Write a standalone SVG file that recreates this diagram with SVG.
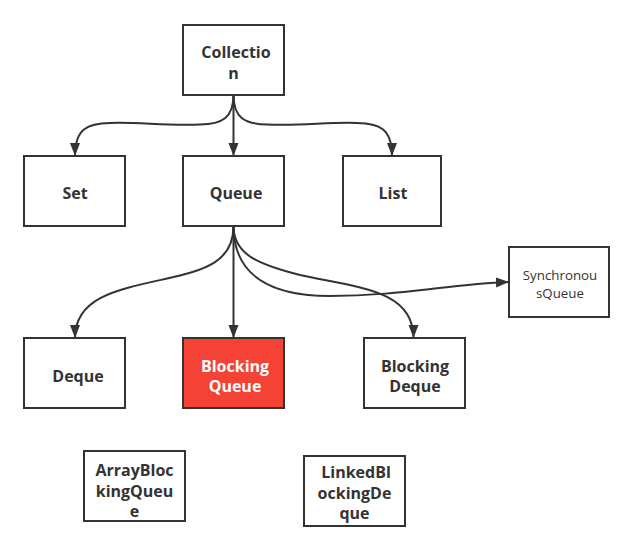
<svg xmlns="http://www.w3.org/2000/svg" width="634" height="551" viewBox="0 0 634 551">
<style>
.box{fill:#ffffff;stroke:#333333;stroke-width:2}
.red{fill:#f44336;stroke:#333333;stroke-width:2}
.t{font-family:"Open Sans","Noto Sans","Liberation Sans",sans-serif;font-size:16px;font-weight:bold;fill:#333333;text-anchor:middle}
.w{fill:#ffffff}
.s{font-family:"Open Sans","Noto Sans","Liberation Sans",sans-serif;font-size:13.3px;font-weight:normal;fill:#333333;text-anchor:middle}
.c{fill:none;stroke:#333333;stroke-width:2}
</style>
<defs>
<marker id="arr" markerUnits="userSpaceOnUse" markerWidth="14" markerHeight="11" refX="13" refY="5" orient="auto">
<path d="M0,0 L13,5 L0,10 Z" fill="#333333"/>
</marker>
</defs>
<rect width="634" height="551" fill="#ffffff"/>
<g id="connectors">
<path class="c" marker-end="url(#arr)" d="M233.5,95 C233.5,118 222,124 200,124.5 C165,126 140,122 110,123 C88,123.5 75,128 75,156"/>
<path class="c" marker-end="url(#arr)" d="M233.5,95 L233.5,156"/>
<path class="c" marker-end="url(#arr)" d="M233.5,95 C233.5,118 245,124 267,124.5 C302,126 327,122 357,123 C379,123.5 392,128 392,156"/>
<path class="c" marker-end="url(#arr)" d="M233.5,226 C233.5,262 205,270 165,279 C115,290 75,298 75,338"/>
<path class="c" marker-end="url(#arr)" d="M233.5,226 L233.5,338"/>
<path class="c" marker-end="url(#arr)" d="M233.5,226 C233.5,255 260,265 300,275 C360,288 413.5,290 413.5,338"/>
<path class="c" marker-end="url(#arr)" d="M233.5,226 C233.5,275 270,296 330,296 C400,296 450,284 509,282"/>
</g>
<g id="collection">
<rect class="box" x="183" y="25" width="101" height="70"/>
<text class="t" x="236" y="57.5">Collectio</text>
<text class="t" x="233.5" y="78.5">n</text>
</g>
<g id="set">
<rect class="box" x="24" y="156" width="101" height="70"/>
<text class="t" x="75" y="198.5">Set</text>
</g>
<g id="queue">
<rect class="box" x="183" y="156" width="101" height="70"/>
<text class="t" x="236" y="198.5">Queue</text>
</g>
<g id="list">
<rect class="box" x="343" y="156" width="98" height="70"/>
<text class="t" x="393" y="198.5">List</text>
</g>
<g id="synchronousqueue">
<rect class="box" x="509" y="247" width="100" height="70"/>
<text class="s" x="560" y="279.5">Synchronou</text>
<text class="s" x="560" y="298">sQueue</text>
</g>
<g id="deque">
<rect class="box" x="24" y="338" width="101" height="70"/>
<text class="t" x="78" y="381.5">Deque</text>
</g>
<g id="blockingqueue">
<rect class="red" x="183" y="338" width="101" height="70"/>
<text class="t w" x="235" y="371.5">Blocking</text>
<text class="t w" x="235" y="391.5">Queue</text>
</g>
<g id="blockingdeque">
<rect class="box" x="364" y="338" width="101" height="70"/>
<text class="t" x="415" y="371.5">Blocking</text>
<text class="t" x="415" y="391.5">Deque</text>
</g>
<g id="arrayblockingqueue">
<rect class="box" x="84" y="451" width="101" height="70"/>
<text class="t" x="134.5" y="476">ArrayBloc</text>
<text class="t" x="134.5" y="496.5">kingQueu</text>
<text class="t" x="134.5" y="517">e</text>
</g>
<g id="linkedblockingdeque">
<rect class="box" x="304" y="456" width="101" height="70"/>
<text class="t" x="356" y="478">LinkedBl</text>
<text class="t" x="354.5" y="498.5">ockingDe</text>
<text class="t" x="354.5" y="519">que</text>
</g>
</svg>
